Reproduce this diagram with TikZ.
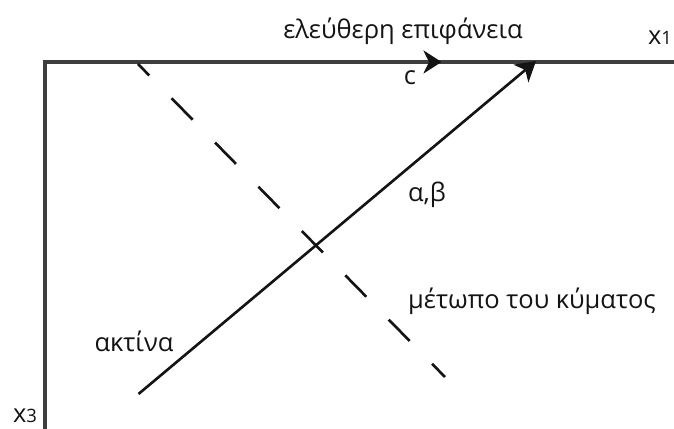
\documentclass[tikz,border=0pt]{standalone}
\usepackage{fontspec}
\setmainfont{Open Sans}
\usetikzlibrary{arrows.meta}
\definecolor{axisgray}{RGB}{62,62,62}
\definecolor{ink}{RGB}{20,20,20}
\tikzset{
  >={Stealth[length=3.9mm,width=4.6mm,inset=1.1mm]},
  axisline/.style={draw=axisgray,line width=1.8pt},
  ray/.style={->,draw=ink,line width=1.5pt},
  front/.style={draw=ink,line width=1.5pt,dash pattern=on 6mm off 6.4mm,dash phase=2.8mm},
  tag/.style={font=\fontsize{14.5}{16}\selectfont,text=ink,inner sep=0pt,anchor=base},
}
\newcommand{\idx}[1]{{\fontsize{10.5}{12}\selectfont #1}}

\begin{document}
\begin{tikzpicture}
        \useasboundingbox (0,0) rectangle (13.48,8.58);
        % axes
        \coordinate (O) at (0.9,7.34);
        \coordinate (x1end) at (13.48,7.34);
        \coordinate (x3end) at (0.9,0);
        \coordinate (cspeed) at (8.83,7.34);
        \draw[axisline] (x1end) -- (O) -- (x3end);
        \draw[axisline,-{Stealth[length=3.6mm,width=4.6mm,inset=1.1mm,color=ink]}] (O) -- (cspeed);
        % ray and wave front
        \coordinate (raystart) at (2.77,0.70);
        \coordinate (raytip) at (10.72,7.36);
        \draw[ray] (raystart) -- (raytip);
        \coordinate (frontA) at (2.76,7.30);
        \coordinate (frontB) at (8.90,1.04);
        \draw[front] (frontA) -- (frontB);
        % labels
        \node[tag] (surface) at (8.06,7.80) {ελεύθερη επιφάνεια};
        \node[tag] (x1) at (13.2,7.68) {x\idx{1}};
        \node[tag] (x3) at (0.5,0.12) {x\idx{3}};
        \node[tag] (c) at (8.2,6.88) {c};
        \node[tag] (ab) at (8.54,4.54) {α,β};
        \node[tag] (aktina) at (2.68,1.54) {ακτίνα};
        \node[tag] (metopo) at (10.64,2.40) {μέτωπο του κύματος};
\end{tikzpicture}
\end{document}
